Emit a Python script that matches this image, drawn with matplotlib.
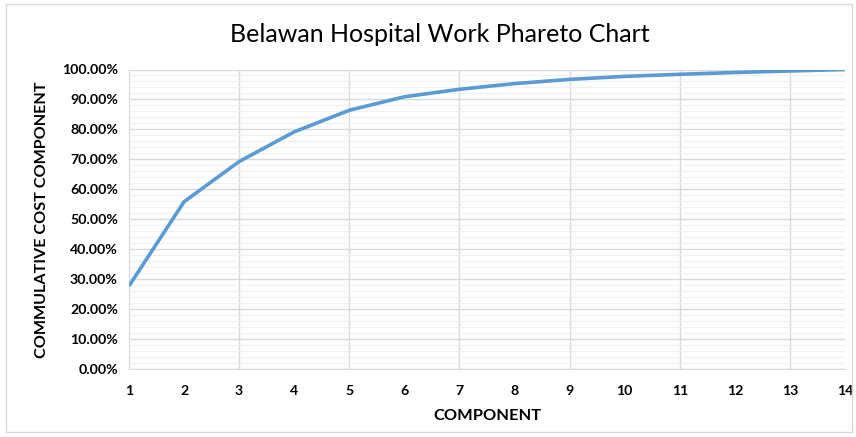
import matplotlib
matplotlib.use("Agg")
import matplotlib.pyplot as plt
from matplotlib.ticker import MultipleLocator, FuncFormatter
from matplotlib.patches import Rectangle

components = list(range(1, 15))
cumulative_pct = [27.8, 55.9, 69.3, 79.2, 86.4, 90.9, 93.4, 95.3, 96.7, 97.7, 98.4, 99.0, 99.5, 100.0]
y_ticks = [0, 10, 20, 30, 40, 50, 60, 70, 80, 90, 100]
x_ticks = components

plt.rcParams['font.family'] = ['Lato', 'DejaVu Sans']

fig = plt.figure(figsize=(8.56, 4.37), dpi=100)
fig.patches.append(Rectangle((6/856, 5/437), 846/856, 428/437, transform=fig.transFigure,
                             fill=False, edgecolor='#d9d9d9', linewidth=1.0))
ax = fig.add_axes([129/856, 1-369.3/437, (845-129)/856, (369.3-69.5)/437])

ax.plot(components, cumulative_pct, color='#5B9BD5', linewidth=2.6, solid_capstyle='butt', zorder=3)

ax.set_xlim(1, 14)
ax.set_ylim(0, 100)
ax.set_xticks(x_ticks)
ax.set_yticks(y_ticks)
ax.yaxis.set_minor_locator(MultipleLocator(2))
ax.yaxis.set_major_formatter(FuncFormatter(lambda v, p: f"{v:.2f}%"))

ax.grid(which='major', axis='y', color='#d9d9d9', linewidth=1.0, zorder=0)
ax.grid(which='minor', axis='y', color='#f0f0f0', linewidth=0.8, zorder=0)
for xv in range(3, 14, 2):
    ax.axvline(xv, color='#d9d9d9', linewidth=1.0, zorder=0)

for s in ['top', 'right']:
    ax.spines[s].set_visible(False)
ax.spines['left'].set_color('#d9d9d9')
ax.spines['bottom'].set_color('#d9d9d9')
ax.tick_params(axis='y', which='both', length=0, pad=8, labelsize=10.2)
ax.tick_params(axis='x', length=0, pad=11, labelsize=10.2)
for lab in ax.get_xticklabels() + ax.get_yticklabels():
    lab.set_fontweight('bold')

ax.set_xlabel('COMPONENT', fontsize=11.8, fontweight='bold', labelpad=9)
ax.set_ylabel('COMMULATIVE COST COMPONENT', fontsize=11.6, fontweight='bold', labelpad=9)
fig.text(0.514, 0.92, 'Belawan Hospital Work Phareto Chart', ha='center', va='center', fontsize=18)

fig.savefig('out.png', dpi=100)
